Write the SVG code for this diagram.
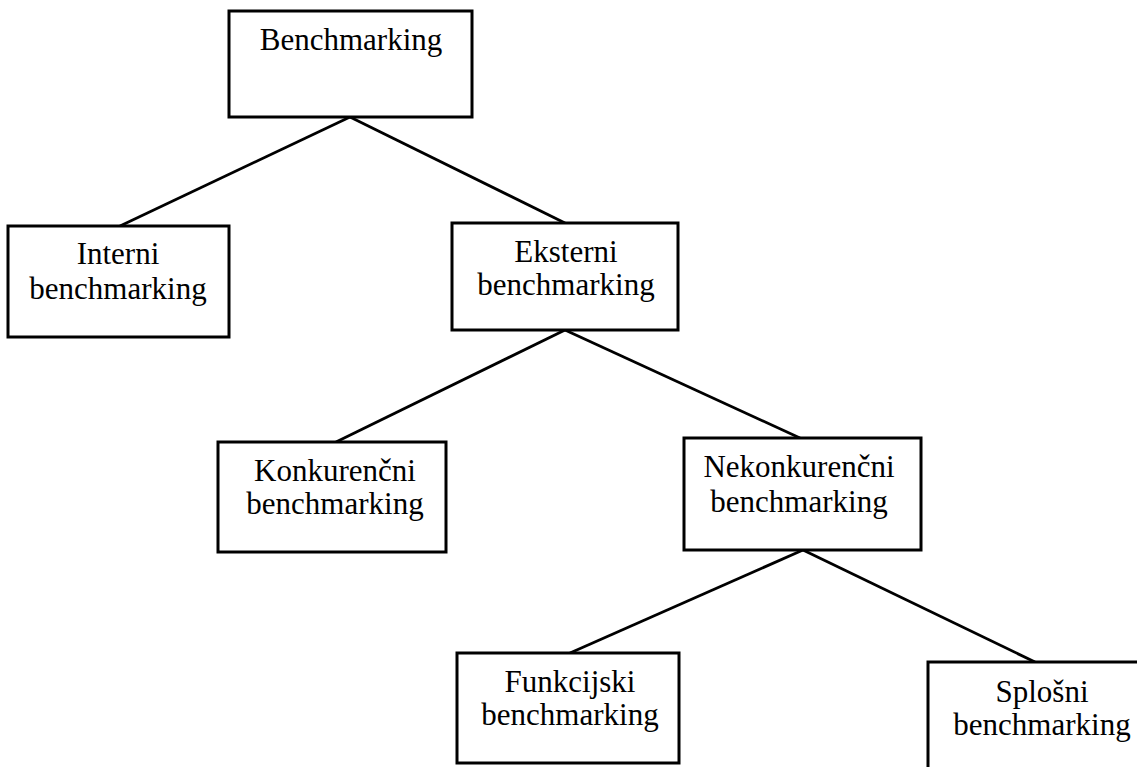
<svg xmlns="http://www.w3.org/2000/svg" width="1137" height="767" viewBox="0 0 1137 767">
<style>
.box{fill:#fff;stroke:#000;stroke-width:3}
.t{font-family:"Liberation Serif","Times New Roman",serif;font-size:31px;fill:#000;text-anchor:middle}
.c line{stroke:#000;stroke-width:2.8}
</style>
<rect width="1137" height="767" fill="#fff"/>
<g class="c" id="connectors">
<line x1="350" y1="117" x2="120" y2="226"/>
<line x1="350" y1="117" x2="565" y2="223"/>
<line x1="565" y1="330" x2="336" y2="442"/>
<line x1="565" y1="330" x2="800" y2="438"/>
<line x1="803" y1="550" x2="570" y2="653"/>
<line x1="803" y1="550" x2="1035" y2="662"/>
</g>
<g id="benchmarking">
<rect class="box" x="229" y="11" width="243" height="106"/>
<text class="t" x="351" y="50">Benchmarking</text>
</g>
<g id="interni">
<rect class="box" x="8" y="226" width="221" height="111"/>
<text class="t" x="118" y="264">Interni</text>
<text class="t" x="118" y="299">benchmarking</text>
</g>
<g id="eksterni">
<rect class="box" x="452" y="223" width="226" height="107"/>
<text class="t" x="566" y="262">Eksterni</text>
<text class="t" x="566" y="295">benchmarking</text>
</g>
<g id="konkurencni">
<rect class="box" x="218" y="442" width="228" height="110"/>
<text class="t" x="335" y="481">Konkurenčni</text>
<text class="t" x="335" y="514">benchmarking</text>
</g>
<g id="nekonkurencni">
<rect class="box" x="684" y="438" width="237" height="112"/>
<text class="t" x="799" y="477">Nekonkurenčni</text>
<text class="t" x="799" y="512">benchmarking</text>
</g>
<g id="funkcijski">
<rect class="box" x="457" y="653" width="222" height="110"/>
<text class="t" x="570" y="692">Funkcijski</text>
<text class="t" x="570" y="725">benchmarking</text>
</g>
<g id="splosni">
<rect class="box" x="928" y="662" width="220" height="120"/>
<text class="t" x="1042" y="702">Splošni</text>
<text class="t" x="1042" y="735">benchmarking</text>
</g>
</svg>
